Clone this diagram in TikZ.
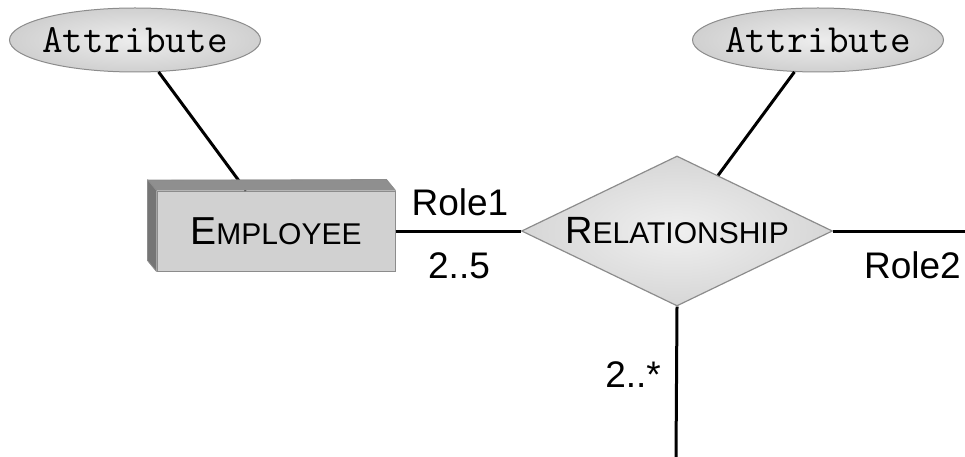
\documentclass[tikz,border=0pt]{standalone}
\usepackage{fontspec}
\setmainfont{Liberation Sans}
\usetikzlibrary{shapes.geometric}
\definecolor{ellin}{gray}{0.93}
\definecolor{ellout}{gray}{0.70}
\definecolor{diain}{gray}{0.94}
\definecolor{diaout}{gray}{0.74}
\definecolor{edgegray}{gray}{0.55}
\definecolor{facegray}{gray}{0.82}
\definecolor{topgray}{gray}{0.56}
\definecolor{sidegray}{gray}{0.46}
\pgfdeclareradialshading{ellshade}{\pgfpoint{0bp}{0bp}}{color(0bp)=(ellin); color(50bp)=(ellout)}
\pgfdeclareradialshading{diashade}{\pgfpoint{0bp}{0bp}}{color(0bp)=(diain); color(50bp)=(diaout)}
\tikzset{
  attr/.style={ellipse, draw=edgegray, line width=1pt, shading=ellshade,
    minimum width=251pt, minimum height=64pt, inner sep=0pt,
    font=\ttfamily\fontsize{40}{40}\selectfont},
  entity/.style={rectangle, draw=edgegray, line width=1pt, fill=facegray,
    minimum width=238pt, minimum height=80pt, inner sep=0pt},
  relation/.style={diamond, draw=edgegray, line width=1.2pt, shading=diashade,
    minimum width=311pt, minimum height=150pt, inner sep=0pt, aspect=2.07},
  link/.style={line width=3pt, black},
  lbl/.style={font=\fontsize{37}{40}\selectfont, inner sep=0pt, anchor=base},
  extrude/.style={draw=edgegray, line width=0.8pt, line join=round},
}
\begin{document}
\begin{tikzpicture}[x=1pt,y=-1pt]
\useasboundingbox (0,0) rectangle (965,457);
% nodes
\node[attr] (attr1) at (135,40) {\makebox[150pt]{Attribute}};
\node[attr] (attr2) at (818,40) {\makebox[150pt]{Attribute}};
\node[entity] (emp) at (276,231) {{\fontsize{39}{40}\selectfont E}{\fontsize{30}{40}\selectfont MPLOYEE}};
\node[relation] (rel) at (677,231) {{\fontsize{38}{40}\selectfont R}{\fontsize{30}{40}\selectfont ELATIONSHIP}};
\coordinate (r2end) at (965,231);
\coordinate (botend) at (676,457);
% connectors
\draw[link] (attr1) -- (emp);
\draw[link] (attr2) -- (rel);
\draw[link] (emp) -- (rel);
\draw[link] (rel) -- (r2end);
\draw[link] (rel.south) -- (botend);
% 3D extrusion of the entity box
\fill[topgray] (emp.north west) -- ++(-9,-11) -- ([shift={(-9,-11)}]emp.north east) -- (emp.north east) -- cycle;
\fill[sidegray] (emp.north west) -- ++(-9,-11) -- ([shift={(-9,-11)}]emp.south west) -- (emp.south west) -- cycle;
\draw[extrude] (emp.south west) -- ++(-9,-11) -- ++(0,-80) -- ([shift={(-9,-11)}]emp.north east) -- (emp.north east);
\draw[extrude] (emp.north west) -- ++(-9,-11);
% labels
\node[lbl] (role1) at (460,215) {Role1};
\node[lbl] (mult1) at (459,278) {2..5};
\node[lbl, anchor=base east] (role2) at (961,278) {Role2};
\node[lbl, anchor=base east] (mult3) at (661,387) {2..*};
\end{tikzpicture}
\end{document}
